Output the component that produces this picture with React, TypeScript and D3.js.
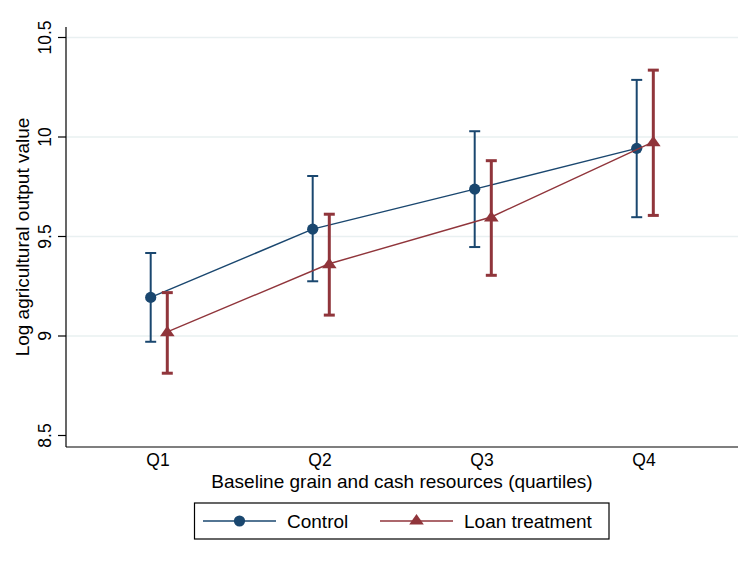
import React from "react";
import * as d3 from "d3";

const quartiles = ["Q1", "Q2", "Q3", "Q4"];

const controlMean = [9.194, 9.537, 9.738, 9.943];
const controlLow = [8.971, 9.275, 9.447, 9.597];
const controlHigh = [9.417, 9.804, 10.029, 10.287];

const loanMean = [9.021, 9.363, 9.598, 9.976];
const loanLow = [8.813, 9.105, 9.305, 9.606];
const loanHigh = [9.218, 9.612, 9.881, 10.336];

const yTicks = [8.5, 9, 9.5, 10, 10.5];
const gridTicks = [9, 9.5, 10, 10.5];

const NAVY = "#1a476f";
const MAROON = "#90353b";
const FONT = "'Liberation Sans', Arial, Helvetica, sans-serif";

const W = 747;
const H = 564;
const left = 66;
const right = 738;
const axisTop = 27;
const axisBottom = 447;

const App = () => {
  const x = d3
    .scalePoint<string>()
    .domain(quartiles)
    .range([left, right])
    .padding(0.574);

  const y = d3.scaleLinear().domain([8.5, 10.5]).range([435.5, 37.5]);

  const off = 8.3;
  const series = [
    { name: "Control", mean: controlMean, low: controlLow, high: controlHigh, color: NAVY, dx: -off, ciWidth: 2, marker: "circle" },
    { name: "Loan treatment", mean: loanMean, low: loanLow, high: loanHigh, color: MAROON, dx: off, ciWidth: 3, marker: "triangle" },
  ];

  const line = d3
    .line<number>()
    .x((_, i) => x(quartiles[i])!)
    .y((d) => y(d));

  const tri = d3.symbol().type(d3.symbolTriangle).size(70)();

  const marker = (kind: string, cx: number, cy: number, color: string, key?: string) =>
    kind === "circle" ? (
      <circle key={key} cx={cx} cy={cy} r={5.6} fill={color} />
    ) : (
      <path key={key} d={tri!} transform={`translate(${cx},${cy + 1}) scale(1.15,0.95)`} fill={color} />
    );

  return (
    <svg width={W} height={H} style={{ position: "absolute", left: 0, top: 0, background: "#fff" }} fontFamily={FONT}>
      {/* grid */}
      {gridTicks.map((t) => (
        <line key={"g" + t} x1={left} x2={right} y1={y(t)} y2={y(t)} stroke="#e9f0f1" strokeWidth={1.5} />
      ))}

      {/* y axis */}
      <line x1={left} x2={left} y1={axisTop} y2={axisBottom} stroke="#000" strokeWidth={1.2} />
      {yTicks.map((t) => (
        <g key={"t" + t}>
          <line x1={left - 8} x2={left} y1={y(t)} y2={y(t)} stroke="#000" strokeWidth={1.2} />
          <text
            transform={`translate(51,${y(t)}) rotate(-90)`}
            textAnchor="middle"
            fontSize={17.5}
            fill="#000"
          >
            {d3.format("")(t)}
          </text>
        </g>
      ))}
      <text transform={`translate(29,237) rotate(-90)`} textAnchor="middle" fontSize={19} fill="#000">
        Log agricultural output value
      </text>

      {/* x axis */}
      <line x1={left} x2={right} y1={axisBottom} y2={axisBottom} stroke="#000" strokeWidth={1.2} />
      {quartiles.map((q) => (
        <text key={q} x={x(q)! - 1} y={466} textAnchor="middle" fontSize={17.5} fill="#000">
          {q}
        </text>
      ))}
      <text x={402} y={488} textAnchor="middle" fontSize={19} fill="#000">
        Baseline grain and cash resources (quartiles)
      </text>

      {/* series */}
      {series.map((s) => (
        <g key={s.name} transform={`translate(${s.dx},0)`}>
          <path d={line(s.mean)!} fill="none" stroke={s.color} strokeWidth={1.4} />
          {quartiles.map((q, i) => {
            const cx = x(q)!;
            return (
              <g key={q}>
                <line x1={cx} x2={cx} y1={y(s.low[i])} y2={y(s.high[i])} stroke={s.color} strokeWidth={s.ciWidth} />
                <line x1={cx - 5.5} x2={cx + 5.5} y1={y(s.low[i])} y2={y(s.low[i])} stroke={s.color} strokeWidth={s.ciWidth} />
                <line x1={cx - 5.5} x2={cx + 5.5} y1={y(s.high[i])} y2={y(s.high[i])} stroke={s.color} strokeWidth={s.ciWidth} />
                {marker(s.marker, cx, y(s.mean[i]), s.color)}
              </g>
            );
          })}
        </g>
      ))}

      {/* legend */}
      <rect x={194.5} y={503} width={414.5} height={36} fill="#fff" stroke="#000" strokeWidth={1.2} />
      <line x1={203} x2={276} y1={521} y2={521} stroke={NAVY} strokeWidth={1.4} />
      {marker("circle", 239.5, 521, NAVY)}
      <text x={287} y={528} fontSize={19} fill="#000">Control</text>
      <line x1={380} x2={453} y1={521} y2={521} stroke={MAROON} strokeWidth={1.4} />
      {marker("triangle", 416.5, 520, MAROON)}
      <text x={464} y={528} fontSize={19} fill="#000">Loan treatment</text>
    </svg>
  );
};

export default App;
